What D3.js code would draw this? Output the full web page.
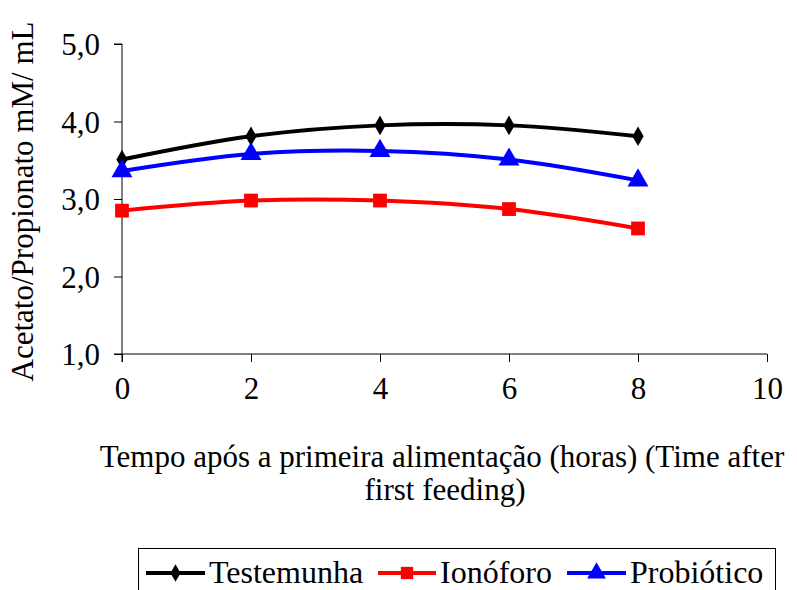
<!DOCTYPE html>
<html>
<head>
<meta charset="utf-8">
<script src="https://cdn.jsdelivr.net/npm/d3@7"></script>
<style>
  html, body { margin: 0; padding: 0; background: #fff; }
  svg { display: block; }
  text { font-family: "Liberation Serif", "Times New Roman", serif; fill: #000; }
</style>
</head>
<body>
<div id="chart"></div>
<script>
const hours = [0, 2, 4, 6, 8];
const testemunha = [3.51, 3.81, 3.95, 3.95, 3.81];
const ionoforo = [2.85, 2.98, 2.98, 2.87, 2.62];
const probiotico = [3.36, 3.58, 3.62, 3.51, 3.24];
const seriesNames = ["Testemunha", "Ionóforo", "Probiótico"];
const seriesColors = ["#000000", "#ff0000", "#0000ff"];
const xTicks = [0, 2, 4, 6, 8, 10];
const yTicks = [1, 2, 3, 4, 5];
const yTitle = "Acetato/Propionato mM/ mL";
const xTitleLines = ["Tempo após a primeira alimentação (horas) (Time after", "first feeding)"];

const W = 797, H = 590;
const FS = 31;
const svg = d3.select("#chart").append("svg").attr("width", W).attr("height", H);

const x = d3.scaleLinear().domain([0, 10]).range([122, 767]);
const y = d3.scaleLinear().domain([1, 5]).range([354, 44]);

const fmt = d => d3.format(".1f")(d).replace(".", ",");

// y axis
const yAxis = svg.append("g").attr("transform", `translate(${x(0)},0)`)
  .call(d3.axisLeft(y).tickValues(yTicks).tickSize(8).tickPadding(14).tickFormat(fmt));
yAxis.select(".domain").attr("stroke", "#000").attr("d", `M-8,${y(5)}H0V${y(1) + 8}`);
yAxis.selectAll("text").attr("font-size", FS).attr("font-family", "Liberation Serif").attr("dy", "0.34em");

// x axis
const xAxis = svg.append("g").attr("transform", `translate(0,${y(1)})`)
  .call(d3.axisBottom(x).tickValues(xTicks).tickSize(8).tickPadding(26).tickFormat(d3.format("d")));
xAxis.select(".domain").attr("stroke", "#000").attr("d", `M${x(0) - 8},0H${x(10)}`);
xAxis.selectAll("text").attr("font-size", FS).attr("font-family", "Liberation Serif").attr("dy", "0.35em");
xAxis.selectAll(".tick line").attr("stroke", "#000");
yAxis.selectAll(".tick line").attr("stroke", "#000");

// titles
svg.append("text")
  .attr("transform", `translate(33,${(13 + 390) / 2}) rotate(-90)`)
  .attr("text-anchor", "middle").attr("font-size", FS).text(yTitle);
svg.append("text").attr("x", 442).attr("y", 467).attr("text-anchor", "middle")
  .attr("font-size", FS).text(xTitleLines[0]);
svg.append("text").attr("x", 445).attr("y", 500).attr("text-anchor", "middle")
  .attr("font-size", FS).text(xTitleLines[1]);

// series
const allSeries = [testemunha, ionoforo, probiotico];
const line = d3.line().x((d, i) => x(hours[i])).y(d => y(d)).curve(d3.curveCatmullRom.alpha(0.5));
const symbols = [d3.symbolDiamond, d3.symbolSquare, d3.symbolTriangle];
const symSizes = [110, 190, 190];

allSeries.forEach((vals, si) => {
  svg.append("path").datum(vals).attr("d", line)
    .attr("fill", "none").attr("stroke", seriesColors[si]).attr("stroke-width", 4);
});
allSeries.forEach((vals, si) => {
  svg.append("g").selectAll("path").data(vals).join("path")
    .attr("transform", (d, i) => `translate(${x(hours[i])},${y(d)})`)
    .attr("d", d3.symbol().type(symbols[si]).size(symSizes[si]))
    .attr("fill", seriesColors[si]);
});

// legend
const lg = svg.append("g");
lg.append("rect").attr("x", 138.5).attr("y", 548.5).attr("width", 637).attr("height", 60)
  .attr("fill", "#fff").attr("stroke", "#000").attr("stroke-width", 1);
const legendItems = [
  { lx0: 146, lx1: 205, tx: 209 },
  { lx0: 378, lx1: 436, tx: 440 },
  { lx0: 567, lx1: 626, tx: 630 }
];
const ly = 573;
seriesNames.forEach((name, si) => {
  const it = legendItems[si];
  lg.append("line").attr("x1", it.lx0).attr("x2", it.lx1).attr("y1", ly).attr("y2", ly)
    .attr("stroke", seriesColors[si]).attr("stroke-width", 4);
  lg.append("path").attr("transform", `translate(${(it.lx0 + it.lx1) / 2},${ly})`)
    .attr("d", d3.symbol().type(symbols[si]).size(symSizes[si] * 0.8)).attr("fill", seriesColors[si]);
  lg.append("text").attr("x", it.tx).attr("y", 583).attr("font-size", 32).text(name);
});
</script>
</body>
</html>
